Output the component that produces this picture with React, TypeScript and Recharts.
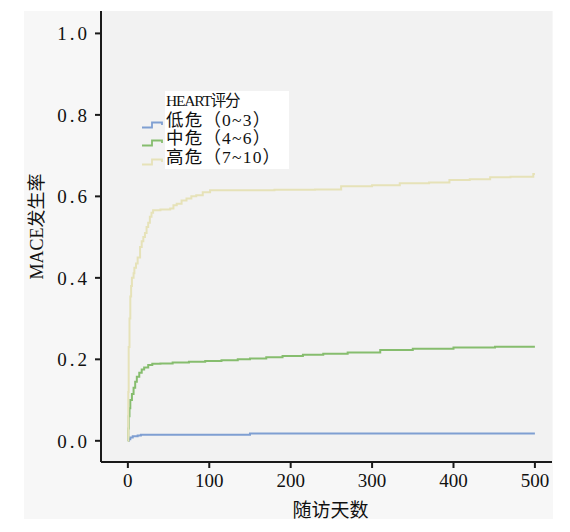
import React from 'react';
import { LineChart, Line, XAxis, YAxis, CartesianGrid, Legend, Label } from 'recharts';

const FONT = "'Liberation Serif', 'Noto Sans CJK SC', serif";

const xTicks = [0, 100, 200, 300, 400, 500];
const yTicks = [0, 0.2, 0.4, 0.6, 0.8, 1.0];

const legendTitle = 'HEART评分';
const groupNames = ['低危（0~3）', '中危（4~6）', '高危（7~10）'];
const groupColors = ['#7f9fd2', '#86bd6e', '#e6e2b8'];

// cumulative MACE incidence (step functions)
const lowDays = [0, 1, 3, 6, 12, 16, 150, 500];
const lowRates = [0, 0.004, 0.008, 0.011, 0.013, 0.015, 0.018, 0.018];

const midDays = [0, 0.5, 1, 2, 3, 5, 7, 9, 11, 14, 17, 20, 25, 30, 40, 55, 75, 95, 115, 135, 150, 170, 190, 215, 240, 270, 310, 350, 400, 451, 500];
const midRates = [0, 0.03, 0.06, 0.08, 0.1, 0.115, 0.13, 0.145, 0.157, 0.167, 0.175, 0.18, 0.186, 0.189, 0.19, 0.192, 0.194, 0.196, 0.198, 0.2, 0.202, 0.205, 0.208, 0.211, 0.214, 0.217, 0.223, 0.226, 0.229, 0.231, 0.231];

const highDays = [0, 0.5, 1, 2, 3, 4, 5, 7, 8, 10, 12, 15, 17, 19, 21, 23, 25, 27, 29, 31, 40, 52, 56, 60, 66, 72, 78, 84, 92, 101, 130, 180, 230, 262, 300, 334, 370, 395, 420, 445, 470, 498, 500];
const highRates = [0, 0.12, 0.23, 0.3, 0.354, 0.38, 0.4, 0.411, 0.425, 0.435, 0.45, 0.476, 0.49, 0.5, 0.51, 0.525, 0.535, 0.55, 0.56, 0.566, 0.568, 0.57, 0.578, 0.582, 0.59, 0.595, 0.6, 0.603, 0.61, 0.615, 0.615, 0.616, 0.617, 0.625, 0.627, 0.632, 0.634, 0.64, 0.642, 0.647, 0.648, 0.655, 0.655];

const toPoints = (days: number[], rates: number[]) => days.map((d, i) => ({ day: d, rate: rates[i] }));

const series = [
  { name: groupNames[0], color: groupColors[0], data: toPoints(lowDays, lowRates) },
  { name: groupNames[1], color: groupColors[1], data: toPoints(midDays, midRates) },
  { name: groupNames[2], color: groupColors[2], data: toPoints(highDays, highRates) },
];

const axisStroke = { stroke: '#1a1a1a', strokeWidth: 2 };

function LegendBox() {
  return (
    <div style={{ display: 'flex', fontFamily: FONT, color: '#111' }}>
      <div style={{ width: 25, paddingTop: 19.5 }}>
        {groupColors.map(c => (
          <svg key={c} width={25} height={18.5} style={{ display: 'block' }}>
            <path d="M2 16.5 H12 V11.5 H22 V14" stroke={c} strokeWidth={1.8} fill="none" />
          </svg>
        ))}
      </div>
      <div style={{ background: '#fff', padding: '1px 8px 3px 1px' }}>
        <div style={{ fontSize: 15.5, lineHeight: '18.5px', letterSpacing: -1.2 }}>{legendTitle}</div>
        {groupNames.map(n => (
          <div key={n} style={{ fontSize: 17.5, lineHeight: '18.5px', letterSpacing: 1.2, whiteSpace: 'nowrap' }}>{n}</div>
        ))}
      </div>
    </div>
  );
}

function YTitle(props: any) {
  const vb = props.viewBox || { y: 0, height: 0 };
  const cx = 37;
  const cy = vb.y + vb.height / 2 - 10;
  return (
    <text x={cx} y={cy} transform={`rotate(-90 ${cx} ${cy})`} textAnchor="middle" dominantBaseline="central"
      fontFamily={FONT} fontSize={18} fill="#111">MACE发生率</text>
  );
}

function XTitle(props: any) {
  const vb = props.viewBox || { x: 0, width: 0 };
  const cx = vb.x + vb.width / 2 + 4;
  return (
    <text x={cx} y={517} textAnchor="middle" fontFamily={FONT} fontSize={19} fill="#111">随访天数</text>
  );
}

export default function App() {
  return (
    <div style={{ position: 'fixed', left: 0, top: 0, width: 570, height: 532, background: '#fff' }}>
      <div style={{ position: 'absolute', left: 24, top: 11, width: 529, height: 508, background: '#f7f7f7' }} />
      <div style={{ position: 'absolute', left: 0, top: 0 }}>
        <LineChart width={570} height={532} margin={{ top: 11, right: 18, bottom: 0, left: 0 }}>
          <CartesianGrid horizontal={false} vertical={false} fill="#f2f2f2" />
          <XAxis
            type="number"
            dataKey="day"
            domain={[-33, 521]}
            ticks={xTicks}
            height={70}
            allowDataOverflow
            axisLine={axisStroke}
            tickLine={axisStroke}
            tickSize={6}
            tickMargin={6}
            tick={{ fill: '#111', fontFamily: FONT, fontSize: 19 }}
          >
            <Label content={XTitle} />
          </XAxis>
          <YAxis
            type="number"
            dataKey="rate"
            domain={[-0.052, 1.055]}
            ticks={yTicks}
            width={101}
            allowDataOverflow
            axisLine={axisStroke}
            tickLine={axisStroke}
            tickSize={6}
            tickMargin={5}
            tickFormatter={(v: number) => v.toFixed(1)}
            tick={{ fill: '#111', fontFamily: FONT, fontSize: 19, letterSpacing: 3 }}
          >
            <Label content={YTitle} />
          </YAxis>
          <Legend
            layout="vertical"
            align="center"
            verticalAlign="middle"
            content={LegendBox}
            wrapperStyle={{ left: 140, top: 91, width: 'auto', height: 'auto' }}
          />
          {series.map(s => (
            <Line
              key={s.name}
              name={s.name}
              data={s.data}
              dataKey="rate"
              type="stepAfter"
              stroke={s.color}
              strokeWidth={2}
              dot={false}
              activeDot={false}
              isAnimationActive={false}
            />
          ))}
        </LineChart>
      </div>
    </div>
  );
}
